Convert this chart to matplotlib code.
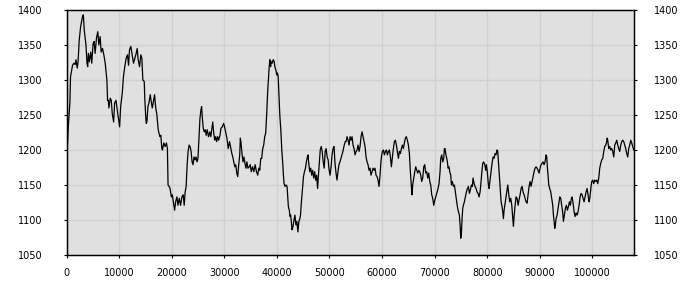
import matplotlib
matplotlib.use("Agg")
import matplotlib.pyplot as plt

# series
steps = [
    0, 150, 320, 640, 770, 1150, 1400, 1650, 1800, 2040, 2200, 2420, 2680, 3060, 3200, 3380,
    3700, 3900, 4030, 4160, 4350, 4610, 4800, 5060, 5250, 5440, 5700, 5950, 6150, 6400, 6590,
    6850, 7100, 7360, 7680, 7810, 7940, 8060, 8320, 8510, 8700, 8960, 9150, 9410, 9600, 9920,
    10100, 10300, 10600, 10830, 11080, 11340, 11600, 11800, 11980, 12230, 12490, 12740, 13000,
    13250, 13440, 13630, 13890, 14140, 14330, 14520, 14780, 14900, 15030, 15160, 15290, 15480,
    15670, 15920, 16110, 16310, 16560, 16750, 16940, 17190, 17440, 17750, 17940, 18125, 18250,
    18500, 18750, 19000, 19190, 19310, 19500, 19690, 19940, 20125, 20310, 20560, 20750, 21000,
    21190, 21440, 21690, 21940, 22190, 22380, 22560, 22750, 22940, 23125, 23310, 23500, 23690,
    23880, 24060, 24250, 24440, 24625, 24810, 25000, 25190, 25375, 25560, 25690, 25810, 26000,
    26190, 26375, 26560, 26750, 27000, 27250, 27440, 27625, 27810, 28000, 28190, 28375, 28560,
    28750, 28940, 29190, 29375, 29625, 29875, 30060, 30250, 30500, 30750, 31000, 31250, 31440,
    31625, 31810, 32000, 32190, 32375, 32560, 32750, 32940, 33060, 33190, 33375, 33560, 33750,
    33940, 34125, 34310, 34500, 34750, 34940, 35125, 35370, 35620, 35870, 36120, 36370, 36560,
    36750, 36940, 37120, 37310, 37500, 37690, 37880, 38060, 38250, 38440, 38560, 38690, 38810,
    38940, 39120, 39310, 39500, 39620, 39810, 40000, 40120, 40250, 40370, 40560, 40750, 40940,
    41120, 41250, 41370, 41560, 41750, 41940, 42060, 42190, 42370, 42500, 42620, 42750, 42870,
    43060, 43250, 43440, 43620, 43810, 44000, 44190, 44370, 44500, 44620, 44750, 44870, 45060,
    45250, 45440, 45620, 45810, 45940, 46060, 46250, 46440, 46620, 46810, 47000, 47190, 47370,
    47560, 47750, 47870, 48060, 48250, 48440, 48620, 48810, 49000, 49190, 49370, 49560, 49750,
    49940, 50120, 50310, 50500, 50690, 50870, 51060, 51250, 51440, 51620, 51810, 52000, 52190,
    52370, 52560, 52810, 53000, 53160, 53350, 53540, 53730, 53920, 54110, 54300, 54490, 54680,
    54870, 55060, 55250, 55440, 55630, 55820, 56010, 56200, 56390, 56580, 56770, 56960, 57150,
    57340, 57530, 57720, 57910, 58100, 58290, 58480, 58670, 58860, 59050, 59240, 59430, 59620,
    59750, 59880, 60070, 60260, 60450, 60640, 60830, 61020, 61210, 61400, 61590, 61780, 61970,
    62160, 62350, 62540, 62730, 62920, 63110, 63300, 63490, 63680, 63870, 64060, 64250, 64440,
    64630, 64820, 65010, 65200, 65390, 65580, 65710, 65830, 66030, 66220, 66410, 66600, 66790,
    66980, 67170, 67360, 67550, 67740, 67930, 68120, 68310, 68500, 68690, 68880, 69070, 69260,
    69450, 69640, 69830, 70020, 70210, 70400, 70590, 70840, 71030, 71160, 71350, 71540, 71730,
    71860, 71980, 72110, 72240, 72430, 72560, 72750, 72870, 73060, 73190, 73380, 73570, 73760,
    73950, 74140, 74330, 74520, 74710, 74840, 74970, 75090, 75220, 75350, 75470, 75660, 75850,
    76040, 76230, 76420, 76610, 76800, 76990, 77180, 77310, 77500, 77690, 77880, 78070, 78260,
    78450, 78640, 78830, 78960, 79150, 79340, 79530, 79720, 79850, 80040, 80230, 80350, 80540,
    80730, 80920, 81110, 81300, 81490, 81680, 81870, 82000, 82130, 82260, 82380, 82510, 82640,
    82830, 82950, 83080, 83210, 83400, 83590, 83780, 83910, 84100, 84290, 84480, 84670, 84860,
    84980, 85110, 85300, 85490, 85680, 85870, 86060, 86250, 86440, 86630, 86820, 87010, 87200,
    87390, 87580, 87770, 87960, 88150, 88340, 88530, 88720, 88910, 89100, 89290, 89480, 89670,
    89860, 90050, 90240, 90430, 90620, 90810, 91000, 91190, 91320, 91450, 91570, 91700, 91890,
    92080, 92270, 92460, 92590, 92720, 92840, 92970, 93100, 93290, 93480, 93670, 93800, 93980,
    94170, 94360, 94490, 94680, 94870, 95060, 95250, 95440, 95630, 95820, 96010, 96140, 96330,
    96520, 96710, 96900, 97090, 97280, 97470, 97660, 97850, 98040, 98230, 98420, 98610, 98800,
    98990, 99180, 99370, 99500, 99630, 99750, 99880, 100070, 100260, 100450, 100640, 100830,
    101020, 101210, 101400, 101590, 101780, 101970, 102160, 102350, 102540, 102670, 102800,
    102920, 103110, 103300, 103490, 103680, 103870, 104060, 104250, 104440, 104630, 104820,
    105010, 105200, 105390, 105580, 105770, 105960, 106150, 106340, 106530, 106720, 106910,
    107100, 107290, 107480, 107670, 107860,
]

values = [
    1190, 1200, 1231, 1267, 1305, 1321, 1324, 1322, 1329, 1317, 1326, 1357, 1376, 1391, 1393, 1371,
    1350, 1324, 1319, 1338, 1326, 1340, 1324, 1352, 1355, 1338, 1360, 1369, 1350, 1362, 1340,
    1345, 1336, 1324, 1300, 1271, 1271, 1260, 1274, 1271, 1252, 1240, 1267, 1271, 1260, 1243,
    1233, 1262, 1281, 1305, 1319, 1331, 1336, 1321, 1343, 1348, 1336, 1324, 1331,
    1338, 1345, 1329, 1319, 1336, 1331, 1300, 1298, 1271, 1252, 1238, 1240, 1262,
    1267, 1279, 1269, 1260, 1271, 1279, 1262, 1250, 1229, 1219, 1221, 1202, 1200,
    1210, 1205, 1210, 1202, 1150, 1148, 1145, 1133, 1136, 1126, 1114, 1126, 1133,
    1121, 1131, 1121, 1133, 1136, 1121, 1140, 1148, 1179, 1198, 1207, 1205, 1198,
    1183, 1179, 1190, 1186, 1190, 1183, 1188, 1217, 1245, 1257, 1262, 1248, 1231,
    1226, 1229, 1221, 1229, 1219, 1226, 1219, 1229, 1240, 1224, 1214, 1219, 1212,
    1219, 1214, 1221, 1231, 1233, 1238, 1233, 1226, 1217, 1202, 1212, 1202, 1195,
    1190, 1183, 1176, 1179, 1167, 1162, 1179, 1193, 1217, 1210, 1195, 1183, 1190,
    1181, 1174, 1183, 1174, 1176, 1179, 1169, 1176, 1169, 1179, 1169, 1164, 1174,
    1171, 1188, 1188, 1202, 1207, 1219, 1224, 1250, 1283, 1305, 1321, 1329, 1319,
    1326, 1324, 1329, 1326, 1319, 1314, 1307, 1310, 1305, 1283, 1250, 1229, 1200,
    1181, 1164, 1152, 1148, 1150, 1148, 1133, 1119, 1114, 1105, 1107, 1098, 1086,
    1090, 1100, 1107, 1093, 1098, 1083, 1098, 1102, 1107, 1121, 1133, 1145, 1162,
    1169, 1174, 1183, 1190, 1193, 1181, 1169, 1174, 1164, 1171, 1160, 1169, 1157,
    1164, 1145, 1160, 1181, 1200, 1205, 1198, 1183, 1174, 1198, 1202, 1190, 1186,
    1171, 1164, 1176, 1193, 1202, 1205, 1181, 1167, 1157, 1169, 1179, 1183, 1188,
    1193, 1198, 1207, 1212, 1212, 1219, 1214, 1207, 1219, 1214, 1219, 1207, 1202,
    1193, 1198, 1200, 1207, 1198, 1205, 1219, 1226, 1219, 1212, 1205, 1190, 1183,
    1179, 1171, 1174, 1164, 1169, 1174, 1171, 1174, 1164, 1162, 1157, 1148, 1164,
    1179, 1190, 1198, 1200, 1193, 1198, 1200, 1193, 1198, 1200, 1190, 1176, 1190,
    1202, 1212, 1214, 1207, 1198, 1188, 1198, 1195, 1202, 1207, 1202, 1210, 1217,
    1219, 1214, 1207, 1195, 1169, 1148, 1136, 1150, 1160, 1169, 1176, 1171, 1167,
    1171, 1169, 1164, 1155, 1160, 1176, 1179, 1167, 1169, 1160, 1167, 1155, 1150,
    1136, 1131, 1121, 1128, 1133, 1138, 1143, 1152, 1169, 1188, 1193, 1183, 1188,
    1202, 1202, 1195, 1190, 1183, 1174, 1176, 1169, 1164, 1150, 1155, 1148, 1150,
    1140, 1129, 1119, 1112, 1107, 1093, 1074, 1081, 1102, 1117, 1121, 1126, 1133,
    1140, 1145, 1148, 1138, 1143, 1150, 1148, 1160, 1152, 1148, 1145, 1140, 1138,
    1133, 1140, 1155, 1167, 1181, 1183, 1179, 1171, 1179, 1167, 1150, 1145, 1157,
    1169, 1181, 1190, 1188, 1195, 1193, 1200, 1198, 1183, 1169, 1155, 1138, 1126,
    1119, 1112, 1102, 1114, 1124, 1133, 1143, 1150, 1136, 1126, 1131, 1121, 1102,
    1091, 1105, 1121, 1133, 1131, 1121, 1129, 1136, 1145, 1148, 1140, 1136, 1131,
    1126, 1124, 1136, 1148, 1155, 1148, 1155, 1162, 1169, 1174, 1176, 1174, 1171,
    1167, 1174, 1179, 1181, 1183, 1179, 1183, 1193, 1190, 1174, 1164, 1150, 1145,
    1140, 1131, 1121, 1107, 1098, 1088, 1093, 1102, 1107, 1117, 1126, 1133, 1131,
    1121, 1110, 1098, 1107, 1117, 1121, 1114, 1119, 1126, 1121, 1131, 1133, 1124,
    1112, 1105, 1110, 1107, 1112, 1121, 1133, 1138, 1136, 1131, 1126, 1133, 1140,
    1145, 1136, 1126, 1131, 1140, 1148, 1155, 1157, 1152, 1157, 1155, 1157,
    1152, 1160, 1174, 1181, 1186, 1188, 1198, 1205, 1207, 1210, 1217,
    1214, 1202, 1205, 1200, 1202, 1198, 1190, 1207, 1210, 1214, 1207,
    1202, 1198, 1207, 1212, 1214, 1212, 1207, 1202, 1195, 1190, 1202,
    1207, 1214, 1210, 1205, 1200,
]

x_ticks = [0, 10000, 20000, 30000, 40000, 50000, 60000, 70000, 80000, 90000, 100000]
y_ticks = [1050, 1100, 1150, 1200, 1250, 1300, 1350, 1400]

fig = plt.figure(figsize=(7, 3), dpi=100)
ax = fig.add_axes([0.095, 0.15, 0.811, 0.8167])
ax.set_facecolor('#e0e0e0')

ax.plot(steps, values, color='black', lw=0.9)

ax.set_xlim(0, 107950)
ax.set_ylim(1050, 1400)
ax.set_xticks(x_ticks)
ax.set_yticks(y_ticks)
ax.set_xticklabels([str(t) for t in x_ticks])
ax.set_yticklabels([str(t) for t in y_ticks])

ax.grid(True, color='#d0d0d0', lw=1)
ax.set_axisbelow(True)
for s in ax.spines.values():
    s.set_color('black')
    s.set_linewidth(1)

ax.tick_params(axis='x', direction='out', length=2.5, pad=7, labelsize=7)
ax.tick_params(axis='y', direction='out', length=2.5, pad=14.5, labelsize=7)

# right-hand copy of the y axis, with its own (smaller) label gap
ax2 = ax.twinx()
ax2.set_ylim(1050, 1400)
ax2.set_yticks(y_ticks)
ax2.set_yticklabels([str(t) for t in y_ticks])
ax2.tick_params(axis='y', direction='out', length=2.5, pad=11.5, labelsize=7)

fig.savefig('out.png', dpi=100)
